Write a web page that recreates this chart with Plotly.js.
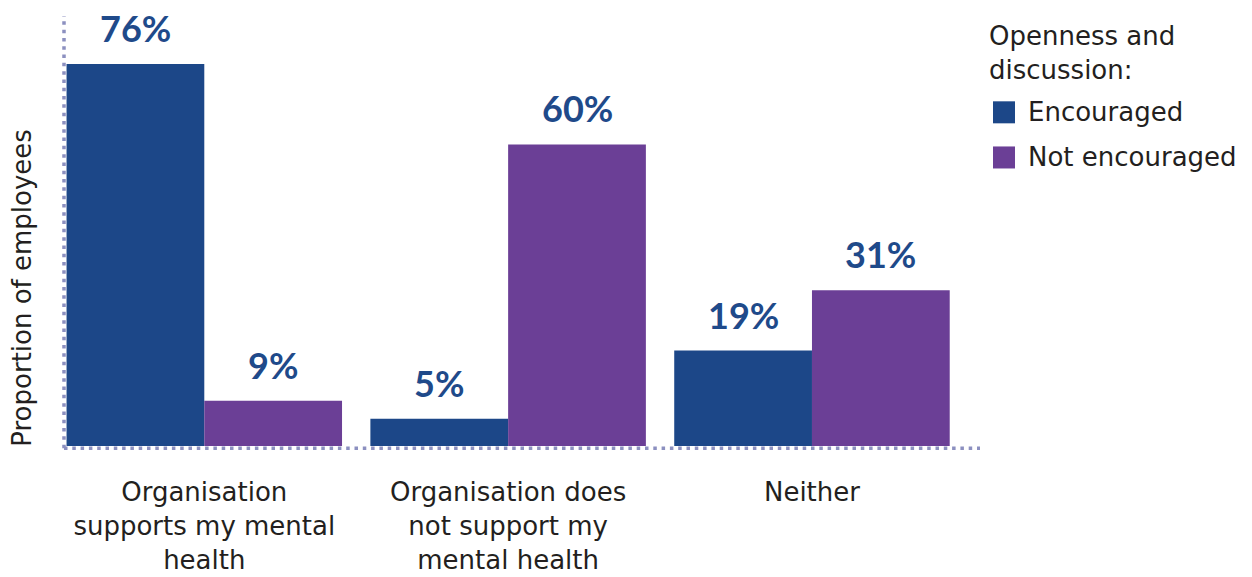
<!DOCTYPE html>
<html>
<head>
<meta charset="utf-8">
<script src="https://cdn.plot.ly/plotly-3.0.1.min.js"></script>
<style>html,body{margin:0;padding:0;background:#fff;}#chart{width:1252px;height:577px;}</style>
</head>
<body>
<div id="chart"></div>
<script>
var categories = [
  "Organisation<br>supports my mental<br>health",
  "Organisation does<br>not support my<br>mental health",
  "Neither"
];
var seriesNames = ["Encouraged", "Not encouraged"];
var encouraged = [76, 5.4, 19];
var notEncouraged = [9, 60, 31];
var legendTitle = "Openness and<br>discussion:";
var yTitle = "Proportion of employees";

var BLUE = "#1c4788", PURPLE = "#6b3f96", LABEL = "#1f4a8a", DOT = "#8c90c0", TXT = "#231f20";
var FONT = "'DejaVu Sans', sans-serif";
var LFONT = "Lato, 'Open Sans', sans-serif";

var traces = [
  {type: "bar", name: seriesNames[0], x: categories, y: encouraged, marker: {color: BLUE}, hoverinfo: "none", showlegend: false},
  {type: "bar", name: seriesNames[1], x: categories, y: notEncouraged, marker: {color: PURPLE}, hoverinfo: "none", showlegend: false}
];

var annotations = [];
var series = [encouraged, notEncouraged];
series.forEach(function (vals, s) {
  vals.forEach(function (v, i) {
    annotations.push({
      x: categories[i], y: v, xref: "x", yref: "y",
      text: "<b>" + Math.round(v) + "%</b>", showarrow: false,
      xanchor: "center", yanchor: "bottom",
      xshift: s === 0 ? -68.9 : 68.9, yshift: 12,
      font: {family: LFONT, size: 36, color: LABEL}
    });
  });
});
annotations.push({
  xref: "paper", yref: "paper", x: -0.0459, y: 0.368, text: yTitle, textangle: -90,
  showarrow: false, xanchor: "center", yanchor: "middle",
  font: {family: FONT, size: 26, color: TXT}
});
annotations.push({
  xref: "paper", yref: "paper", x: 1.0076, y: 0.913, text: legendTitle, align: "left",
  showarrow: false, xanchor: "left", yanchor: "middle",
  font: {family: FONT, size: 26, color: TXT}
});
var legendColors = [BLUE, PURPLE];
var legendY = [0.776, 0.671];
var shapes = [];
seriesNames.forEach(function (n, k) {
  annotations.push({
    xref: "paper", yref: "paper", x: 1.0502, y: legendY[k], text: n,
    showarrow: false, xanchor: "left", yanchor: "middle",
    font: {family: FONT, size: 26, color: TXT}
  });
  shapes.push({
    type: "rect", xref: "paper", yref: "paper",
    x0: 1.0142, x1: 1.0382, y0: legendY[k] - 0.0256, y1: legendY[k] + 0.0256,
    fillcolor: legendColors[k], line: {width: 0}
  });
});
shapes.push({type: "line", xref: "paper", yref: "paper", x0: 0, x1: 0, y0: -0.005, y1: 1,
  line: {color: DOT, width: 3.5, dash: "3.5px,4.8px"}});
shapes.push({type: "line", xref: "paper", yref: "paper", x0: 0, x1: 1, y0: -0.005, y1: -0.005,
  line: {color: DOT, width: 3.5, dash: "3.5px,4.8px"}});

var layout = {
  width: 1252, height: 577,
  margin: {l: 64, r: 272, t: 16, b: 131},
  paper_bgcolor: "#fff", plot_bgcolor: "#fff",
  barmode: "group", bargap: 0.0933, bargroupgap: 0,
  showlegend: false,
  font: {family: FONT, size: 26, color: TXT},
  xaxis: {
    type: "category", range: [-0.4617, 2.553], showgrid: false, zeroline: false,
    showline: false, ticks: "", ticklabelstandoff: 28,
    tickfont: {family: FONT, size: 26, color: TXT}, fixedrange: true
  },
  yaxis: {
    range: [0, 85.55], showgrid: false, zeroline: false, showline: false,
    showticklabels: false, ticks: "", fixedrange: true
  },
  annotations: annotations,
  shapes: shapes
};

Plotly.newPlot("chart", traces, layout, {displayModeBar: false, staticPlot: true});
</script>
</body>
</html>
